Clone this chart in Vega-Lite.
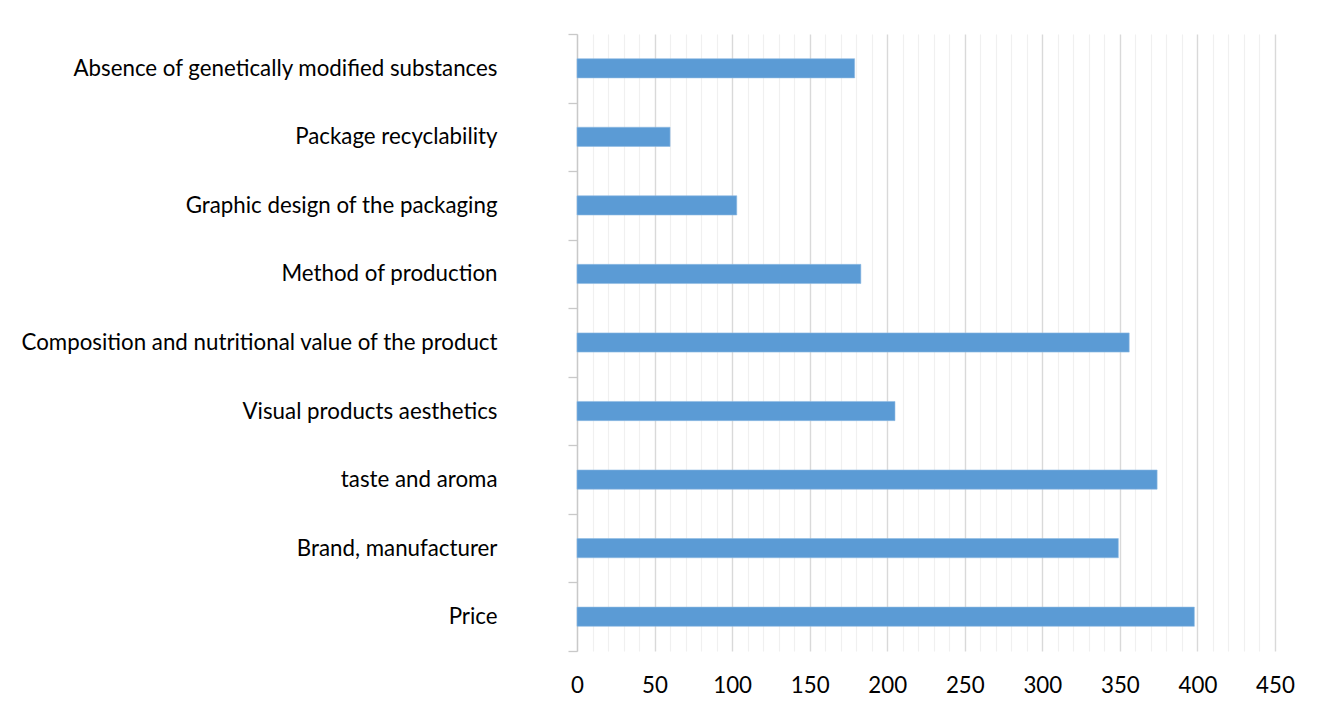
{
  "$schema": "https://vega.github.io/schema/vega-lite/v6.json",
  "autosize": {"type": "none"},
  "padding": {"left": 577, "top": 34, "right": 49, "bottom": 62},
  "width": 698,
  "height": 617,
  "background": "white",
  "data": {
    "values": [
      {"factor": "Absence of genetically modified substances", "count": 179},
      {"factor": "Package recyclability", "count": 60},
      {"factor": "Graphic design of the packaging", "count": 103},
      {"factor": "Method of production", "count": 183},
      {"factor": "Composition and nutritional value of the product", "count": 356},
      {"factor": "Visual products aesthetics\u00a0", "count": 205},
      {"factor": "taste and aroma", "count": 374},
      {"factor": "Brand, manufacturer", "count": 349},
      {"factor": "Price", "count": 398}
    ]
  },
  "mark": {"type": "bar", "color": "#5b9bd5", "height": {"band": 0.28}, "stroke": "#8fbbe3", "strokeWidth": 0.6},
  "encoding": {
    "y": {
      "field": "factor",
      "type": "nominal",
      "sort": null,
      "scale": {"paddingInner": 0, "paddingOuter": 0},
      "axis": {
        "title": null,
        "tickBand": "extent",
        "domainColor": "#c9c9c9",
        "domainWidth": 1.3,
        "tickColor": "#c9c9c9",
        "tickWidth": 1.3,
        "tickSize": 9,
        "labelPadding": 71,
        "labelFont": "Lato",
        "labelFontSize": 22.3,
        "labelColor": "#000000",
        "labelLimit": 600
      }
    },
    "x": {
      "field": "count",
      "type": "quantitative",
      "scale": {"domain": [0, 450], "nice": false},
      "axis": {
        "title": null,
        "values": [0, 10, 20, 30, 40, 50, 60, 70, 80, 90, 100, 110, 120, 130, 140, 150, 160, 170, 180, 190, 200, 210, 220, 230, 240, 250, 260, 270, 280, 290, 300, 310, 320, 330, 340, 350, 360, 370, 380, 390, 400, 410, 420, 430, 440, 450],
        "labelExpr": "datum.value % 50 === 0 ? datum.label : ''",
        "labelFlush": false,
        "labelOverlap": false,
        "grid": true,
        "gridColor": {"condition": {"test": "datum.value % 50 === 0", "value": "#d9d9d9"}, "value": "#f0f0f0"},
        "gridWidth": {"condition": {"test": "datum.value % 50 === 0", "value": 1.4}, "value": 1.2},
        "domain": false,
        "ticks": false,
        "labelPadding": 23,
        "labelFont": "Lato",
        "labelFontSize": 22.3,
        "labelColor": "#000000"
      }
    }
  },
  "config": {"view": {"stroke": null}}
}
